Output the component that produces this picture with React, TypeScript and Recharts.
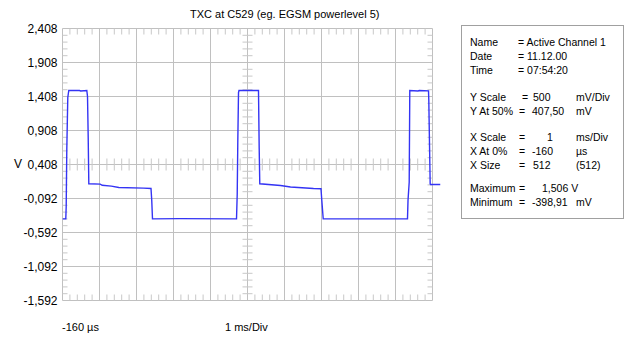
import React from "react";
import { LineChart, Line, XAxis, YAxis, ReferenceLine } from "recharts";

// trace: time in ms, level in V
const timeMs = [
  -0.16, -0.071, -0.06, -0.044, -0.017, 0.01, 0.3, 0.33, 0.497, 0.516, 0.535, 0.551,
  0.86, 0.913, 1.16, 1.362, 2.03, 2.232, 2.252, 2.272, 3.0, 4.543, 4.562, 4.578,
  4.597, 4.61, 5.137, 5.156, 5.172, 5.732, 6.002, 6.624, 6.826, 6.848, 6.886, 9.164,
  9.178, 9.21, 9.218, 9.226, 9.45, 9.48, 9.732, 9.74, 9.759, 9.777, 9.786, 10.056,
];
const volts = [
  -0.391, -0.391, -0.21, 0.63, 1.393, 1.496, 1.496, 1.49, 1.496, 1.408, 0.79, 0.124,
  0.12, 0.103, 0.09, 0.07, 0.06, 0.055, -0.12, -0.391, -0.388, -0.391, -0.03, 0.76,
  1.467, 1.496, 1.496, 0.643, 0.124, 0.099, 0.077, 0.055, 0.051, -0.12, -0.391, -0.391,
  -0.12, 0.148, 0.8, 1.496, 1.49, 1.496, 1.49, 1.35, 0.702, 0.12, 0.114, 0.114,
];

const yTicks = [-1.592, -1.092, -0.592, -0.092, 0.408, 0.908, 1.408, 1.908, 2.408];
const xStart = -0.16; // X At 0%
const xDivs = 10; // 1 ms/Div
const yDivs = 8; // 500 mV/Div

const title = "TXC at C529 (eg. EGSM powerlevel 5)";
const bottomLeft = "-160 µs";
const bottomMid = "1 ms/Div";

const infoRows = [
  { label: "Name", eq: "= Active Channel 1", value: "", unit: "" },
  { label: "Date", eq: "= 11.12.00", value: "", unit: "" },
  { label: "Time", eq: "= 07:54:20", value: "", unit: "" },
  { label: "Y Scale", eq: "=", value: "500", unit: "mV/Div" },
  { label: "Y At 50%", eq: "=", value: "407,50", unit: "mV" },
  { label: "X Scale", eq: "=", value: "1", unit: "ms/Div" },
  { label: "X At 0%", eq: "=", value: "-160", unit: "µs" },
  { label: "X Size", eq: "=", value: "512", unit: "(512)" },
  { label: "Maximum", eq: "=", value: "1,506 V", unit: "" },
  { label: "Minimum", eq: "=", value: "-398,91", unit: "mV" },
];

const data = timeMs.map((t, i) => ({ t, v: volts[i] }));

const FONT = "'Liberation Sans', Arial, sans-serif";
const GRID = "#c0c0c0";
const MINOR = "#c8c8c8";

// px -> data units (37 px per ms, 34 px per 0.5 V)
const PX_X = 1 / 37;
const PX_Y = 0.5 / 34;

const fmt = (v: number) => v.toFixed(3).replace(".", ",");

function gridSegments() {
  const xMin = xStart;
  const xMax = xStart + xDivs;
  const yMin = yTicks[0];
  const yMax = yTicks[yTicks.length - 1];
  const xMid = xStart + xDivs / 2;
  const yMid = yTicks[4];
  const segs: { a: { x: number; y: number }; b: { x: number; y: number }; c: string }[] = [];

  for (let k = 0; k <= xDivs; k++) {
    const x = xStart + k;
    segs.push({ a: { x, y: yMin }, b: { x, y: yMax }, c: GRID });
  }
  yTicks.forEach((y) => segs.push({ a: { x: xMin, y }, b: { x: xMax, y }, c: GRID }));

  for (let k = 0; k < xDivs; k++) {
    for (let m = 1; m < 5; m++) {
      const x = xStart + k + m * 0.2;
      segs.push({ a: { x, y: yMax }, b: { x, y: yMax - 6 * PX_Y }, c: MINOR });
      segs.push({ a: { x, y: yMin }, b: { x, y: yMin + 6 * PX_Y }, c: MINOR });
      segs.push({ a: { x, y: yMid - 6 * PX_Y }, b: { x, y: yMid + 6 * PX_Y }, c: MINOR });
    }
  }
  for (let j = 0; j < yDivs; j++) {
    for (let m = 1; m < 5; m++) {
      const y = yMin + j * 0.5 + m * 0.1;
      segs.push({ a: { x: xMin, y }, b: { x: xMin + 5 * PX_X, y }, c: MINOR });
      segs.push({ a: { x: xMax - 5 * PX_X, y }, b: { x: xMax, y }, c: MINOR });
      segs.push({ a: { x: xMid - 5 * PX_X, y }, b: { x: xMid + 5 * PX_X, y }, c: MINOR });
    }
  }
  return segs;
}

const segments = gridSegments();

export default function App() {
  return (
    <div
      style={{
        position: "absolute",
        left: 0,
        top: 0,
        width: 629,
        height: 349,
        background: "#fff",
        fontFamily: FONT,
      }}
    >
      <div style={{ position: "absolute", left: 0, top: 0 }}>
        <LineChart
          width={629}
          height={349}
          data={data}
          margin={{ top: 28.5, left: 0.5, right: 188.5, bottom: 48.5 }}
        >
          <XAxis
            type="number"
            dataKey="t"
            domain={[xStart, 10.056]}
            allowDataOverflow
            hide
          />
          <YAxis
            type="number"
            domain={[yTicks[0], yTicks[yTicks.length - 1]]}
            ticks={yTicks}
            allowDataOverflow
            interval={0}
            width={62}
            tickLine={false}
            axisLine={false}
            tickSize={3}
            tickMargin={2}
            tickFormatter={fmt}
            tick={{ fill: "#000", fontSize: 12, fontFamily: FONT }}
          />
          {segments.map((s, i) => (
            <ReferenceLine
              key={i}
              segment={[s.a, s.b]}
              stroke={s.c}
              strokeWidth={1}
              ifOverflow="visible"
            />
          ))}
          <Line
            type="linear"
            dataKey="v"
            stroke="#3434f4"
            strokeWidth={1.4}
            dot={false}
            isAnimationActive={false}
          />
        </LineChart>
      </div>

      <svg
        width={629}
        height={349}
        style={{ position: "absolute", left: 0, top: 0, pointerEvents: "none" }}
        fontFamily={FONT}
        fill="#000"
      >
        <text x={190} y={18} fontSize={11}>
          {title}
        </text>
        <text x={14} y={168} fontSize={12}>
          V
        </text>
        <text x={62} y={331} fontSize={11}>
          {bottomLeft}
        </text>
        <text x={225} y={331} fontSize={11}>
          {bottomMid}
        </text>

        <rect x={461.5} y={25.5} width={162} height={193} fill="#fff" stroke="#a0a0a0" />
        {infoRows.map((r, i) => {
          const base = [46, 60, 74, 101, 115, 141, 155, 169, 192, 206][i];
          const eqX = r.value ? (i === 3 ? 522 : i >= 8 ? 519 : 519) : 518;
          const valX = i === 5 ? 547 : i === 8 ? 542 : i === 3 || i === 7 ? 533 : 532;
          return (
            <g key={r.label} fontSize={10.5}>
              <text x={470} y={base}>
                {r.label}
              </text>
              <text x={eqX} y={base}>
                {r.eq}
              </text>
              {r.value && (
                <text x={valX} y={base}>
                  {r.value}
                </text>
              )}
              {r.unit && (
                <text x={576} y={base}>
                  {r.unit}
                </text>
              )}
            </g>
          );
        })}
      </svg>
    </div>
  );
}
